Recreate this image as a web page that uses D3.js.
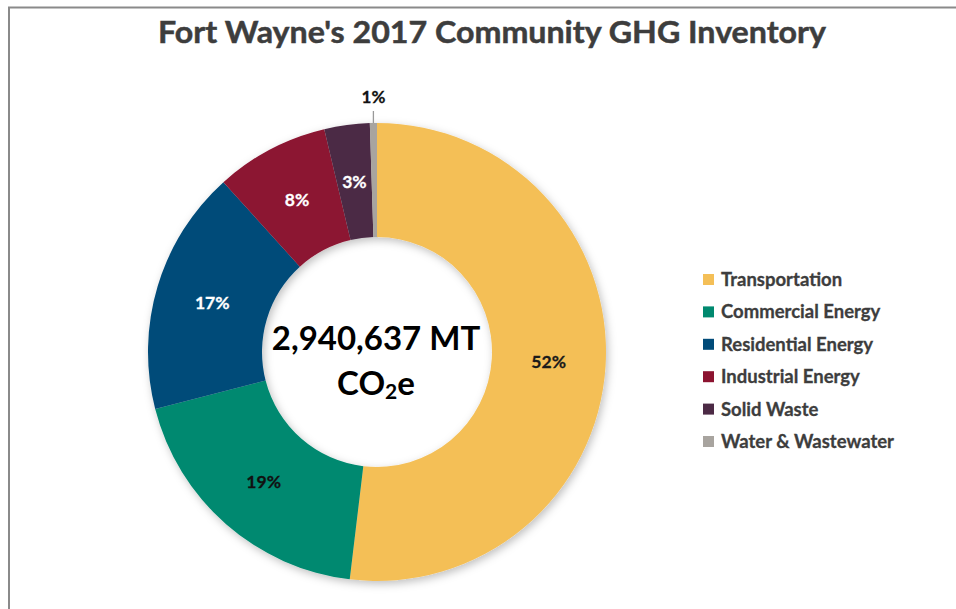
<!DOCTYPE html>
<html>
<head>
<meta charset="utf-8">
<script src="https://cdn.jsdelivr.net/npm/d3@7"></script>
<style>
  html, body { margin: 0; padding: 0; background: #fff; }
  svg { display: block; }
</style>
</head>
<body>
<svg id="chart" width="956" height="609"></svg>
<script>
// ---- data ----
const categories = ["Transportation", "Commercial Energy", "Residential Energy", "Industrial Energy", "Solid Waste", "Water & Wastewater"];
const values = [51.9, 19.1, 17.3, 8.0, 3.2, 0.5];
const valueLabels = ["52%", "19%", "17%", "8%", "3%", "1%"];
const colors = ["#F4BF57", "#00896F", "#014B79", "#8C1330", "#4C2A45", "#A8A49F"];
const labelColors = ["#1a1a1a", "#111111", "#ffffff", "#ffffff", "#ffffff", "#111111"];
const titleText = "Fort Wayne's 2017 Community GHG Inventory";
const centerLine1 = "2,940,637 MT";

const svg = d3.select("#chart");
const W = 956, H = 609;
const font = "Lato, 'Open Sans', sans-serif";

// frame (cut off at right/bottom)
svg.append("path")
  .attr("d", `M9,${H} L9,7.5 L${W},7.5`)
  .attr("fill", "none").attr("stroke", "#8a8a8a").attr("stroke-width", 2);

// title
svg.append("text")
  .attr("x", 492).attr("y", 43)
  .attr("text-anchor", "middle")
  .attr("font-family", font).attr("font-weight", 700)
  .attr("font-size", 31).attr("fill", "#3d3d3d")
  .attr("stroke", "#3d3d3d").attr("stroke-width", 0.5)
  .attr("textLength", 668).attr("lengthAdjust", "spacingAndGlyphs")
  .text(titleText);

// shadow filter
const defs = svg.append("defs");
const f = defs.append("filter").attr("id", "shadow").attr("x", "-20%").attr("y", "-20%").attr("width", "140%").attr("height", "140%");
f.append("feDropShadow").attr("dx", 2).attr("dy", 3).attr("stdDeviation", 4)
  .attr("flood-color", "#000").attr("flood-opacity", 0.25);

const cx = 377, cy = 352, R = 229, r = 115;
const g = svg.append("g").attr("transform", `translate(${cx},${cy})`);

const pie = d3.pie().sort(null).value(d => d);
const arcs = pie(values);
const arc = d3.arc().innerRadius(r).outerRadius(R);

g.append("g").attr("filter", "url(#shadow)")
  .selectAll("path").data(arcs).join("path")
  .attr("d", arc)
  .attr("fill", (d, i) => colors[i]);

// labels
arcs.forEach((d, i) => {
  if (i === arcs.length - 1) {
    const mid = (d.startAngle + d.endAngle) / 2;
    const px = Math.sin(mid) * R, py = -Math.cos(mid) * R;
    g.append("line")
      .attr("x1", px).attr("y1", py)
      .attr("x2", px).attr("y2", -R - 12)
      .attr("stroke", "#999").attr("stroke-width", 1.3);
    g.append("text")
      .attr("x", px).attr("y", -R - 20)
      .attr("text-anchor", "middle")
      .attr("font-family", font).attr("font-weight", 700)
      .attr("font-size", 17).attr("fill", labelColors[i])
      .attr("stroke", labelColors[i]).attr("stroke-width", 0.3)
      .text(valueLabels[i]);
  } else {
    const c = arc.centroid(d);
    g.append("text")
      .attr("x", c[0]).attr("y", c[1])
      .attr("dy", "0.35em")
      .attr("text-anchor", "middle")
      .attr("font-family", font).attr("font-weight", 700)
      .attr("font-size", 17.5).attr("fill", labelColors[i])
      .attr("stroke", labelColors[i]).attr("stroke-width", 0.3)
      .text(valueLabels[i]);
  }
});

// center text
svg.append("text")
  .attr("x", 376).attr("y", 350)
  .attr("text-anchor", "middle")
  .attr("font-family", font).attr("font-weight", 700)
  .attr("font-size", 33).attr("fill", "#000")
  .text(centerLine1);
const l2 = svg.append("text")
  .attr("x", 376).attr("y", 395)
  .attr("text-anchor", "middle")
  .attr("font-family", font).attr("font-weight", 700)
  .attr("font-size", 33).attr("fill", "#000");
l2.append("tspan").text("CO");
l2.append("tspan").attr("font-size", 21).attr("dy", 4).text("2");
l2.append("tspan").attr("dy", -4).text("e");

// legend
const legend = svg.append("g").attr("transform", "translate(703,274)");
const rowH = 32.4;
categories.forEach((c, i) => {
  const row = legend.append("g").attr("transform", `translate(0,${i * rowH})`);
  row.append("rect").attr("x", 0).attr("y", 0).attr("width", 11).attr("height", 11)
    .attr("fill", colors[i]);
  row.append("text").attr("x", 18).attr("y", 12)
    .attr("font-family", font).attr("font-weight", 700)
    .attr("font-size", 18.5).attr("fill", "#3d3d3d")
    .attr("stroke", "#3d3d3d").attr("stroke-width", 0.3)
    .text(c);
});
</script>
</body>
</html>
